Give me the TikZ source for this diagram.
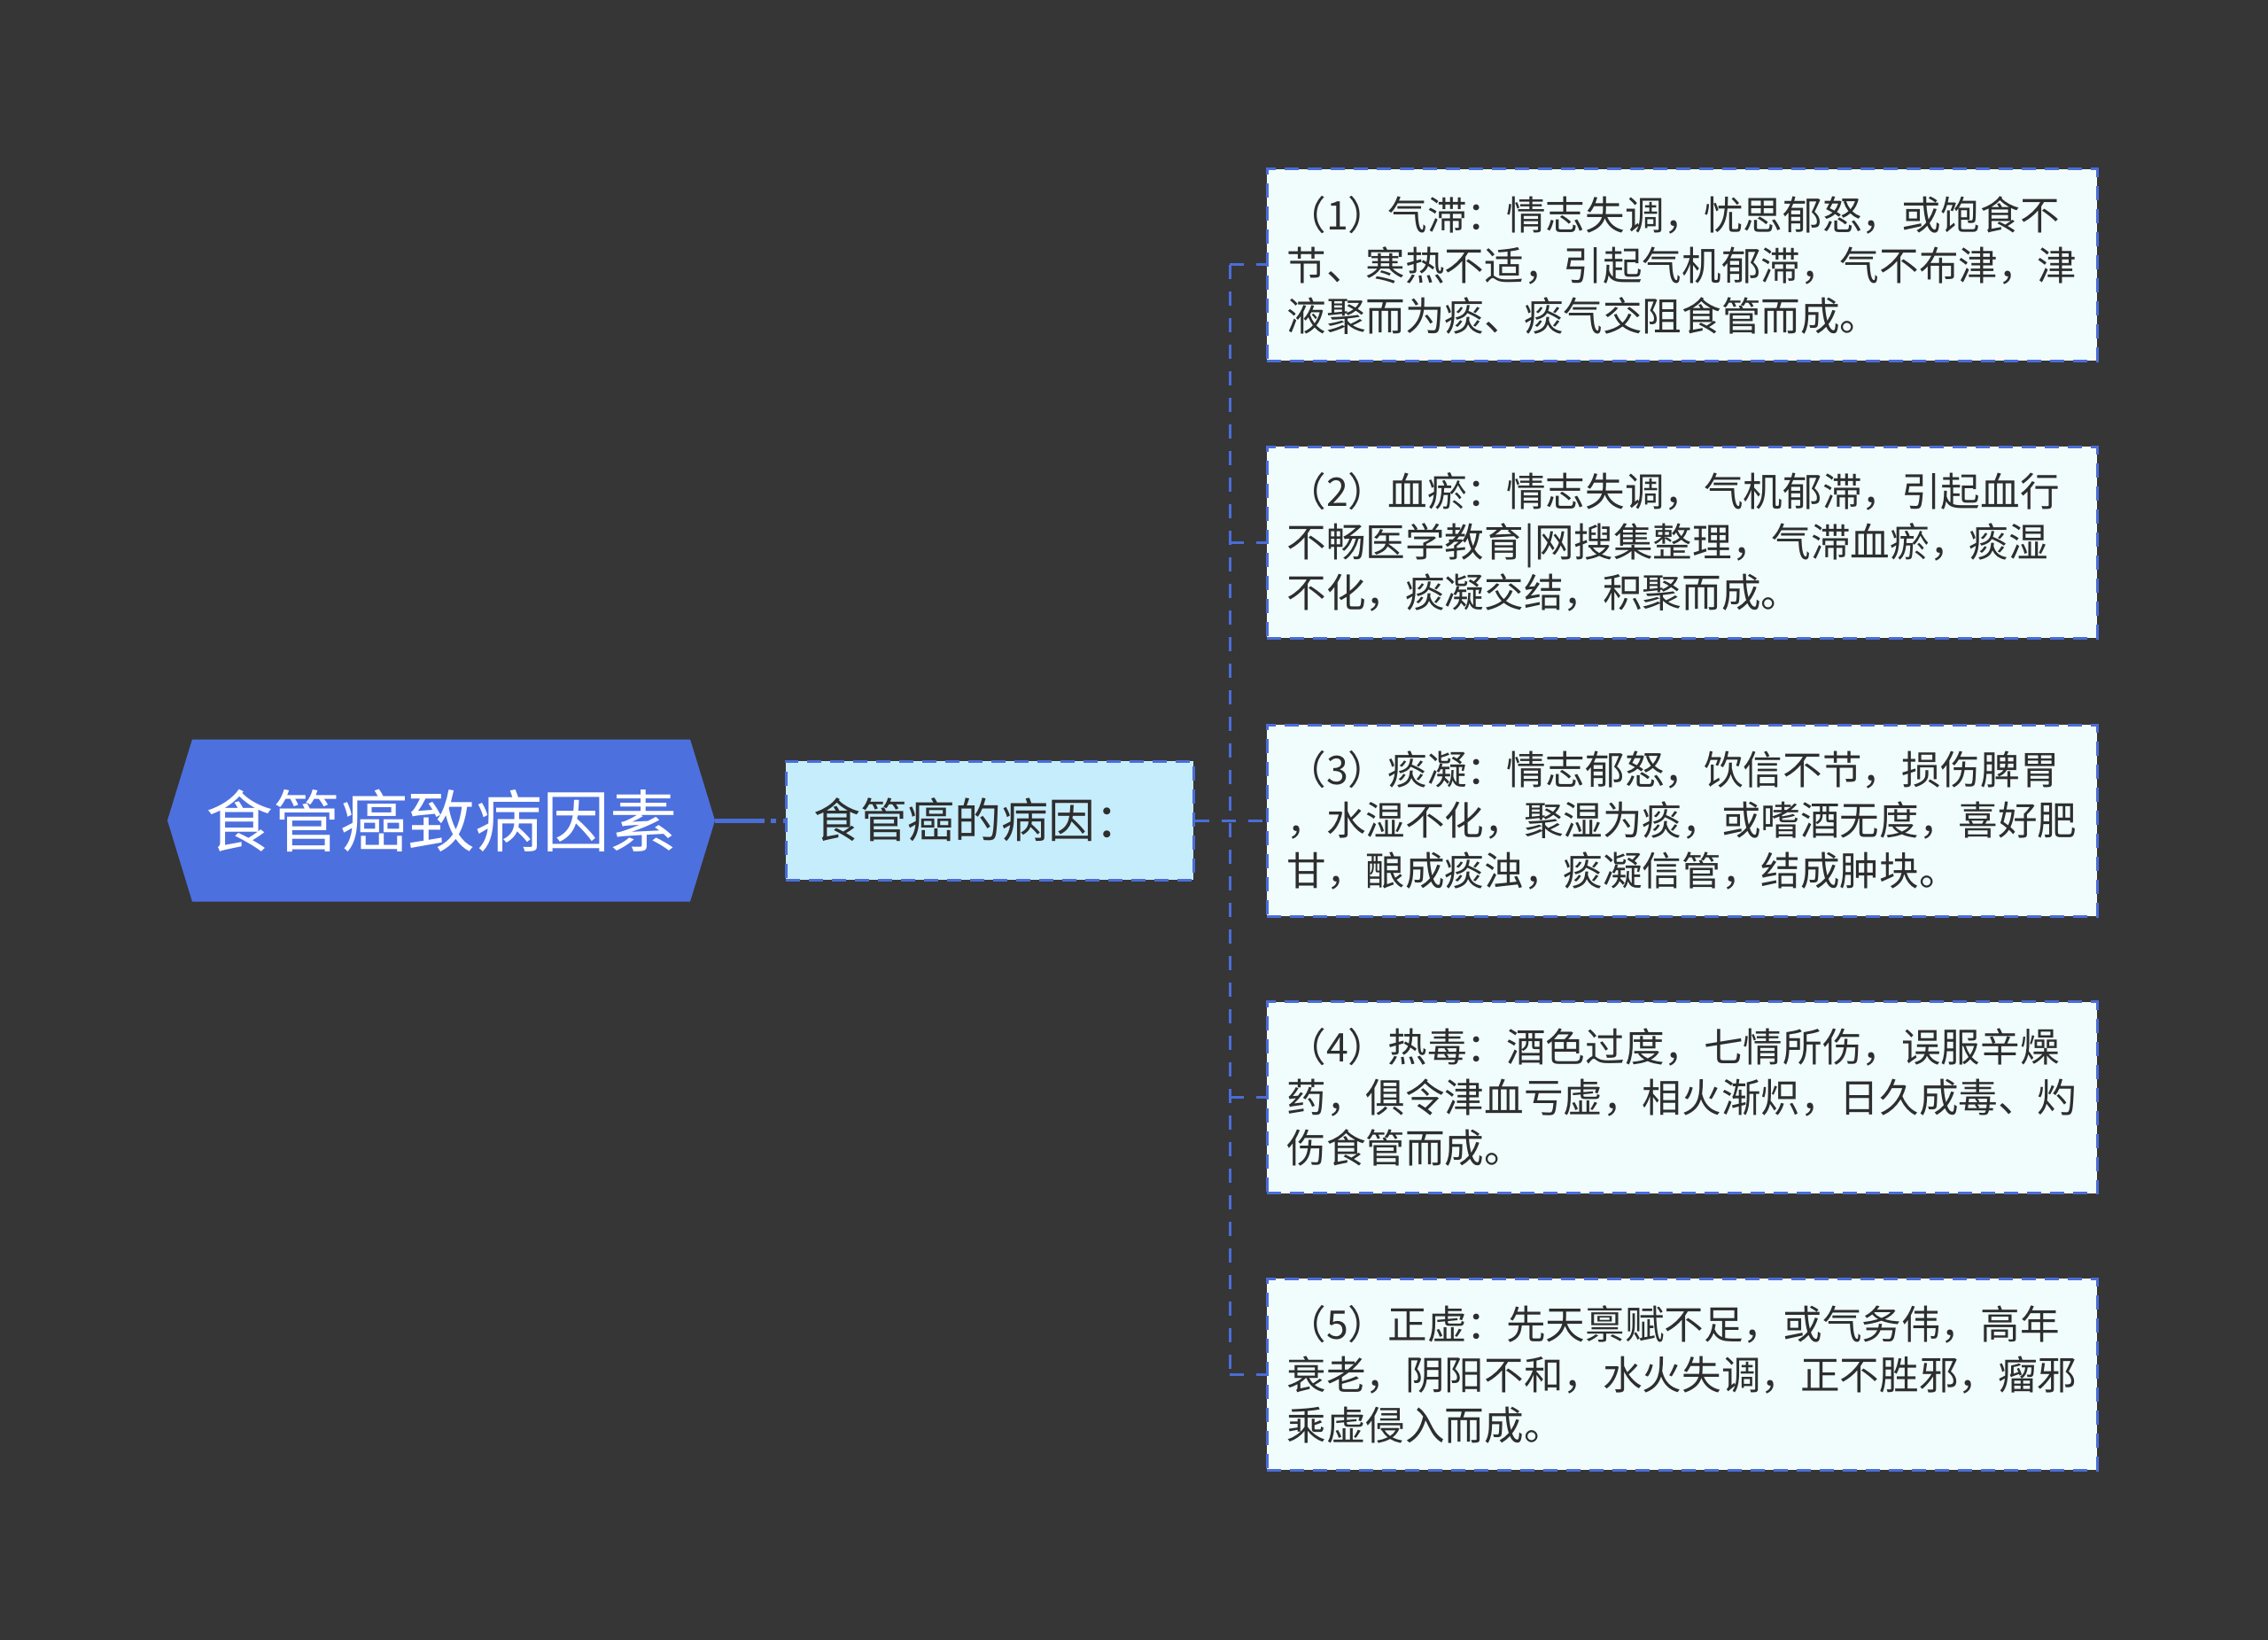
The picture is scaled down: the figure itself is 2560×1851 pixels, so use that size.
\documentclass[tikz,border=0pt]{standalone}
\usepackage{fontspec}
\setmainfont{Noto Sans CJK SC}
\usetikzlibrary{shapes.symbols}
\definecolor{bg}{HTML}{373636}
\definecolor{rootfill}{HTML}{4D70DF}
\definecolor{midfill}{HTML}{C6EDFC}
\definecolor{boxfill}{HTML}{F1FDFD}
\definecolor{edge}{HTML}{4A6DD8}
\definecolor{ink}{HTML}{2E2E2E}
\tikzset{
  rootnode/.style={signal, signal to=west and east, signal pointer angle=146,
    fill=rootfill, draw=none, minimum width=309pt, minimum height=91.5pt,
    inner sep=0pt, text=white, font=\fontsize{38}{40}\selectfont},
  midnode/.style={rectangle, fill=midfill, draw=edge, line width=1.5pt,
    dash pattern=on 8pt off 5pt, minimum width=230pt, minimum height=67pt,
    inner sep=0pt, text=ink, font=\fontsize{26.5}{30}\selectfont},
  leafnode/.style={rectangle, fill=boxfill, draw=edge, line width=1.5pt,
    dash pattern=on 8pt off 5pt, text width=446pt, align=left,
    inner xsep=11.25pt, inner ysep=0pt, minimum height=108pt,
    text=ink, font=\fontsize{22.3}{28.5}\selectfont},
  conn/.style={draw=edge, line width=1.5pt, dash pattern=on 8pt off 7pt},
}
\begin{document}
\begin{tikzpicture}[x=0.5pt,y=-0.5pt]
\fill[bg] (0,0) rectangle (2560,1851);
\useasboundingbox (0,0) rectangle (2560,1851);

\node[rootnode] (root) at (498,926) {食管癌致病因素};
\node[midnode] (mid) at (1117,926) {};
\node[anchor=west, inner sep=0pt, text=ink, font=\fontsize{26.5}{30}\selectfont] (midtext) at (918,925) {食管癌的病因：};

\node[leafnode] (b1) at (1898.5,299) {（1）气滞：情志失调，忧思郁怒，或饱食不\\节、寒热不适，引起气机郁滞，气不布津，津\\液聚而为痰、痰气交阻食管而成。};
\node[leafnode] (b2) at (1898.5,612) {（2）血瘀：情志失调，气机郁滞，引起血行\\不畅医学教育|网搜集整理，气滞血瘀，痰湿\\不化，痰凝交结，积聚而成。};
\node[leafnode] (b3) at (1898.5,926) {（3）痰凝：情志郁怒，饮信不节，损伤脾胃\\，水湿不化，聚湿为痰，或嗜酒无度，喜好肥\\甘，酿成痰浊，痰凝信管，结成肿块。};
\node[leafnode] (b4) at (1898.5,1238.5) {（4）热毒：酒色过度，七情所伤，误服辛燥\\药，俱令津血亏虚，相火渐炽，日久成毒、灼\\伤食管而成。};
\node[leafnode] (b5) at (1898.5,1551) {（5）正虚：先天禀赋不足，或气务伟，高年\\衰老，阴阳不和，水火失调，正不胜邪，瘤邪\\乘虚侵入而成。};

\coordinate (spine) at (1388,926);

\draw[draw=edge, line width=2.5pt, dash pattern=on 28pt off 3.5pt on 3pt off 4pt on 8pt] (root.east) -- (mid.west);
\draw[conn] (mid.east) -- (b3.west);
\draw[conn] (spine |- b1.west) -- (spine |- b5.west);
\draw[conn] (spine |- b1.west) -- (b1.west);
\draw[conn] (spine |- b2.west) -- (b2.west);
\draw[conn] (spine |- b4.west) -- (b4.west);
\draw[conn] (spine |- b5.west) -- (b5.west);
\end{tikzpicture}
\end{document}
